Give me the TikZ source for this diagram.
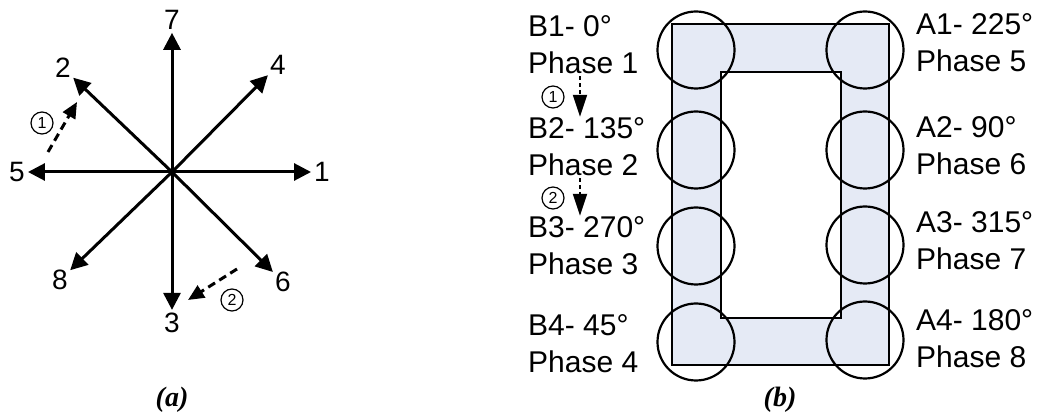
\documentclass[tikz,border=0pt]{standalone}
\usepackage{fontspec}
\setmainfont{Liberation Sans}
\newfontfamily\capfont{Liberation Serif}
\usepackage{tikz}
\usetikzlibrary{arrows.meta, positioning}
\definecolor{coreblue}{RGB}{229,234,245}

\begin{document}
\begin{tikzpicture}[
    x=1pt, y=-1pt,
    vec/.style={-{Triangle[length=17pt, width=17pt]}, line width=3pt, shorten >=3pt},
    shiftarrow/.style={-{Triangle[length=16pt, width=14pt]}, line width=3pt, dash pattern=on 8pt off 5pt},
    num/.style={font=\fontsize{28}{30}\selectfont, inner sep=0pt},
    tag/.style={circle, draw, line width=1.2pt, minimum size=22pt, inner sep=0pt, font=\fontsize{16}{16}\selectfont},
    coil/.style={circle, draw, line width=2.2pt, minimum size=77pt, inner sep=0pt},
    lbl/.style={align=left, inner sep=0pt, font=\fontsize{30}{37}\selectfont},
    hop/.style={-{Triangle[length=22pt, width=14pt]}, line width=2pt, dash pattern=on 4pt off 3pt, shorten <=2pt, shorten >=1pt},
    caption/.style={font=\capfont\bfseries\itshape\fontsize{28}{30}\selectfont}
]
\useasboundingbox (0,0) rectangle (1045,419);

% (a) phase star
\coordinate (ctr) at (172,172);
\node[num] (n1) at (322,172) {1};
\node[num] (n2) at (63,68) {2};
\node[num] (n3) at (172,323) {3};
\node[num] (n4) at (278,65) {4};
\node[num] (n5) at (17,172) {5};
\node[num] (n6) at (283,282) {6};
\node[num] (n7) at (172,20) {7};
\node[num] (n8) at (60,280) {8};

\draw[vec] (ctr) -- (n1);
\draw[vec] (ctr) -- (n2);
\draw[vec] (ctr) -- (n3);
\draw[vec] (ctr) -- (n4);
\draw[vec] (ctr) -- (n5);
\draw[vec] (ctr) -- (n6);
\draw[vec] (ctr) -- (n7);
\draw[vec] (ctr) -- (n8);

\coordinate (shiftAfrom) at (48,152);
\coordinate (shiftAto) at (77,102);
\draw[shiftarrow] (shiftAfrom) -- (shiftAto);
\node[tag] (tagA) at (42,123) {1};

\coordinate (shiftBfrom) at (237,269);
\coordinate (shiftBto) at (188,300);
\draw[shiftarrow] (shiftBfrom) -- (shiftBto);
\node[tag] (tagB) at (232,300) {2};

\node[caption] (capa) at (172,400) {(a)};

% (b) core with coils
\draw[line width=1.8pt, fill=coreblue, even odd rule] (672,24) rectangle (889,365) (721,72) rectangle (841,318);

\node[coil] (coilB1) at (696,50) {};
\node[coil] (coilB2) at (696,150) {};
\node[coil] (coilB3) at (696,246) {};
\node[coil] (coilB4) at (696,342) {};
\node[coil] (coilA1) at (865,50) {};
\node[coil] (coilA2) at (865,150) {};
\node[coil] (coilA3) at (865,245) {};
\node[coil] (coilA4) at (865,340) {};

\node[lbl, anchor=base west] (txtB1) at (528,74) {B1- 0°\\Phase 1};
\node[lbl, anchor=base west] (txtB2) at (528,176) {B2- 135°\\Phase 2};
\node[lbl, anchor=base west] (txtB3) at (528,275) {B3- 270°\\Phase 3};
\node[lbl, anchor=base west] (txtB4) at (528,373) {B4- 45°\\Phase 4};
\node[lbl, anchor=base west] (txtA1) at (916,72) {A1- 225°\\Phase 5};
\node[lbl, anchor=base west] (txtA2) at (916,175) {A2- 90°\\Phase 6};
\node[lbl, anchor=base west] (txtA3) at (916,270) {A3- 315°\\Phase 7};
\node[lbl, anchor=base west] (txtA4) at (916,368) {A4- 180°\\Phase 8};

\draw[hop] ([xshift=52pt]txtB1.south west) -- ([xshift=52pt]txtB2.north west);
\draw[hop] ([xshift=52pt]txtB2.south west) -- ([xshift=52pt]txtB3.north west);
\node[tag] (tagB1) at (553,97) {1};
\node[tag] (tagB2) at (553,198) {2};

\node[caption] (capb) at (780,400) {(b)};

\end{tikzpicture}
\end{document}
